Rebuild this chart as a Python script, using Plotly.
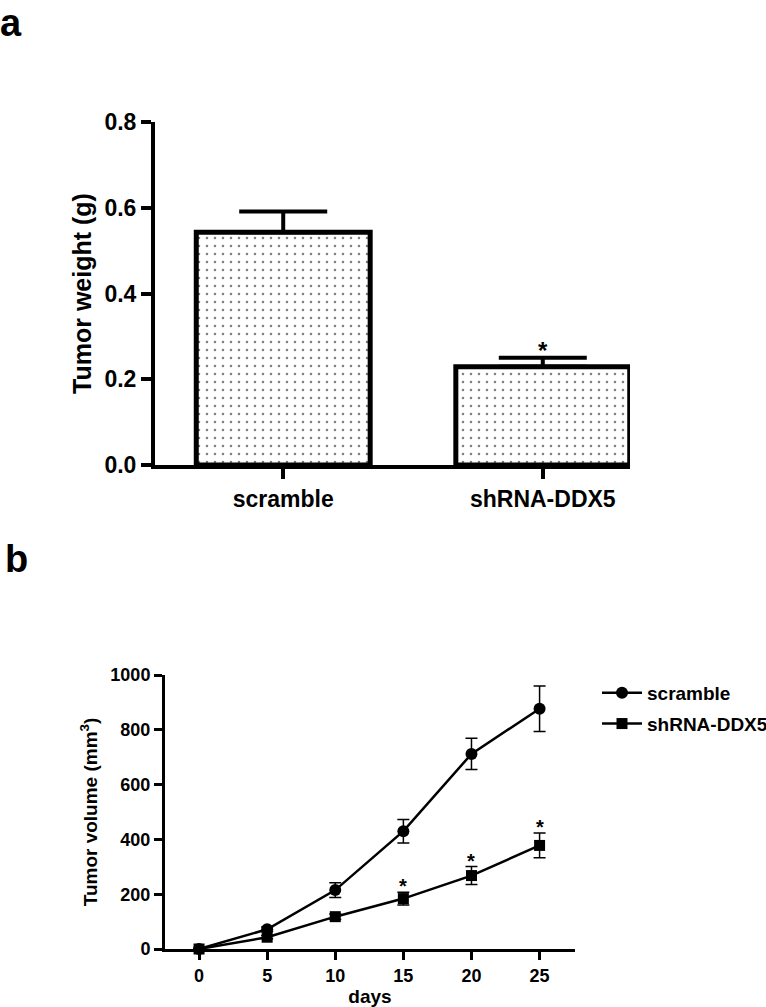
import plotly.graph_objects as go

# ---------------- data ----------------
# Panel a: tumor weight
groups = ["scramble", "shRNA-DDX5"]
weight_mean = [0.543, 0.229]
weight_sem = [0.048, 0.021]
weight_sig = ["", "*"]

# Panel b: tumor volume
days = [0, 5, 10, 15, 20, 25]
scramble_vol = [0, 72, 215, 430, 712, 877]
scramble_err = [0, 8, 27, 43, 57, 83]
shrna_vol = [0, 43, 118, 184, 268, 378]
shrna_err = [0, 6, 10, 23, 33, 45]
shrna_sig = ["", "", "", "*", "*", "*"]

y_ticks_a = [0.0, 0.2, 0.4, 0.6, 0.8]
y_ticks_b = [0, 200, 400, 600, 800, 1000]
x_ticks_b = [0, 5, 10, 15, 20, 25]

W, H = 766, 1007
FONT = "Liberation Sans, Arial, sans-serif"

def px_x(p):
    return p / W

def px_y(p):
    return 1 - p / H

fig = go.Figure()

# ---- panel a bars ----
fig.add_trace(go.Bar(
    x=groups, y=weight_mean, width=0.67,
    marker=dict(color="white",
                line=dict(color="black", width=5),
                pattern=dict(shape=".", fgcolor="black", bgcolor="white",
                             size=8, solidity=0.08)),
    error_y=dict(type="data", array=weight_sem, arrayminus=[0] * len(weight_sem),
                 symmetric=False, thickness=4, width=44, color="black"),
    showlegend=False, xaxis="x", yaxis="y",
))

for g, m, e, s in zip(groups, weight_mean, weight_sem, weight_sig):
    if s:
        fig.add_annotation(x=g, y=m + e, xref="x", yref="y", text="<b>" + s + "</b>",
                           showarrow=False, yanchor="bottom", yshift=-8,
                           font=dict(family=FONT, size=24, color="black"))

# ---- panel b lines ----
fig.add_trace(go.Scatter(
    x=days, y=scramble_vol, mode="lines+markers", name="scramble",
    line=dict(color="black", width=2.5),
    marker=dict(symbol="circle", size=12, color="black"),
    error_y=dict(type="data", array=scramble_err, thickness=1.5, width=6, color="black"),
    xaxis="x2", yaxis="y2", cliponaxis=False, legendgroup="g1",
))
fig.add_trace(go.Scatter(
    x=days, y=shrna_vol, mode="lines+markers", name="shRNA-DDX5",
    line=dict(color="black", width=2.5),
    marker=dict(symbol="square", size=11, color="black"),
    error_y=dict(type="data", array=shrna_err, thickness=1.5, width=6, color="black"),
    xaxis="x2", yaxis="y2", cliponaxis=False, legendgroup="g2",
))

for d, v, e, s in zip(days, shrna_vol, shrna_err, shrna_sig):
    if s:
        fig.add_annotation(x=d, y=v + e, xref="x2", yref="y2", text="<b>" + s + "</b>",
                           showarrow=False, yanchor="bottom", yshift=-7,
                           font=dict(family=FONT, size=20, color="black"))

# panel labels
fig.add_annotation(x=0, y=1, xref="paper", yref="paper", text="<b>a</b>",
                   showarrow=False, xanchor="left", yanchor="top", xshift=-2, yshift=0,
                   font=dict(family=FONT, size=38, color="black"))
fig.add_annotation(x=0, y=px_y(536), xref="paper", yref="paper", text="<b>b</b>",
                   showarrow=False, xanchor="left", yanchor="top", xshift=3,
                   font=dict(family=FONT, size=38, color="black"))

axis_common = dict(showgrid=False, zeroline=False, showline=True, linecolor="black",
                   ticks="outside", tickcolor="black", mirror=False, automargin=False)

fig.update_layout(
    width=W, height=H, autosize=False,
    margin=dict(l=0, r=0, t=0, b=0, autoexpand=False),
    paper_bgcolor="white", plot_bgcolor="white",
    font=dict(family=FONT, color="black"),
    xaxis=dict(**axis_common, domain=[px_x(155), px_x(630)], anchor="y",
               type="category", range=[-0.494, 1.336],
               linewidth=4, tickwidth=4, ticklen=10,
               tickfont=dict(family=FONT, size=23, color="black", weight="bold")),
    yaxis=dict(**axis_common, domain=[px_y(465), px_y(122)], anchor="x",
               range=[0, 0.8], tickvals=y_ticks_a, tickformat=".1f",
               linewidth=4, tickwidth=4, ticklen=10,
               tickfont=dict(family=FONT, size=23, color="black", weight="bold"),
               title=dict(text="<b>Tumor weight (g)</b>", standoff=7,
                          font=dict(family=FONT, size=25, color="black"))),
    xaxis2=dict(**axis_common, domain=[px_x(165), px_x(575)], anchor="y2",
                range=[-2.5, 27.6], tickvals=x_ticks_b,
                linewidth=3, tickwidth=3, ticklen=8,
                tickfont=dict(family=FONT, size=18, color="black", weight="bold"),
                title=dict(text="<b>days</b>", standoff=12,
                           font=dict(family=FONT, size=19, color="black"))),
    yaxis2=dict(**axis_common, domain=[px_y(949), px_y(675)], anchor="x2",
                range=[0, 1000], tickvals=y_ticks_b,
                linewidth=3, tickwidth=3, ticklen=8,
                tickfont=dict(family=FONT, size=18, color="black", weight="bold"),
                title=dict(text="<b>Tumor volume (mm<sup>3</sup>)</b>", standoff=8,
                           font=dict(family=FONT, size=19, color="black"))),
    legend=dict(x=px_x(597), y=px_y(674), xanchor="left", yanchor="top",
                bgcolor="rgba(0,0,0,0)", borderwidth=0, tracegroupgap=3,
                itemwidth=40,
                font=dict(family=FONT, size=19, color="black", weight="bold")),
)

fig.write_html("out.html",
               config={"displayModeBar": False},
               post_script="document.body.style.margin='0';document.body.style.overflow='hidden';")
